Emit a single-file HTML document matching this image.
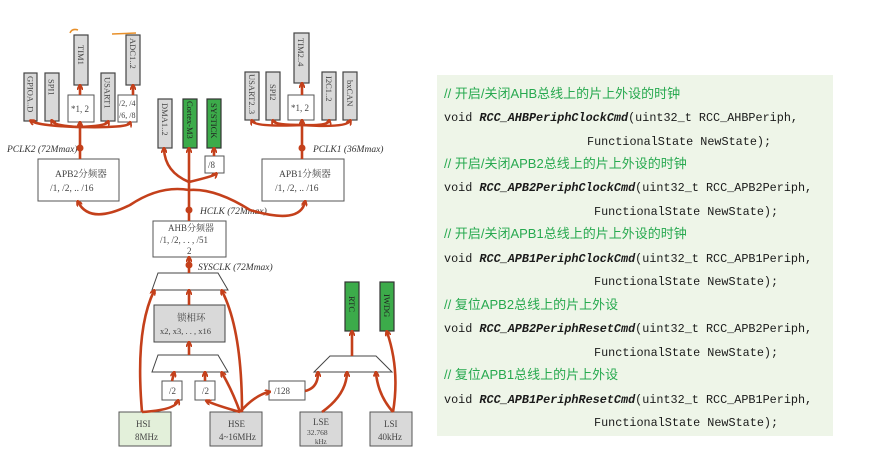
<!DOCTYPE html>
<html><head><meta charset="utf-8"><style>
html,body{margin:0;padding:0;background:#fff;width:875px;height:469px;overflow:hidden}
svg{display:block}
.b{fill:#d9d9d9;stroke:#444;stroke-width:1.2}
.g{fill:#3cab4a;stroke:#333;stroke-width:1.2}
.w{fill:#fff;stroke:#555;stroke-width:1}
.t{font-family:"Liberation Serif","Noto Serif CJK SC",serif;font-size:9px;fill:#444}
.a{fill:none;stroke:#c4401b;stroke-width:2.6;marker-end:url(#m)}
.n{fill:none;stroke:#c4401b;stroke-width:2.6}
.c{font-family:"Liberation Mono","Noto Sans CJK SC",monospace;font-size:11.8px;fill:#1a1a1a}
.cm{font-family:"Liberation Sans","Noto Sans CJK SC",sans-serif;font-size:13px;fill:#27a94f}
.f{font-weight:bold;font-style:italic}
.lbl{font-family:"Liberation Serif",serif;font-style:italic;font-size:9.5px;fill:#333}
</style></head><body>
<svg width="875" height="469" viewBox="0 0 875 469" xmlns="http://www.w3.org/2000/svg">
<defs><marker id="m" markerWidth="6" markerHeight="6" refX="4" refY="3" orient="auto" markerUnits="userSpaceOnUse" viewBox="0 0 6 6"><path d="M0,0 L6,3 L0,6" fill="none" stroke="#c4401b" stroke-width="1.8"/></marker></defs>

<rect x="437" y="75" width="396" height="361" fill="#eef5e8"/>
<g>
<text class="cm" x="444" y="98">// 开启/关闭AHB总线上的片上外设的时钟</text>
<text class="c" x="444" y="121">void <tspan class="f">RCC_AHBPeriphClockCmd</tspan>(uint32_t RCC_AHBPeriph,</text>
<text class="c" x="587" y="145">FunctionalState NewState);</text>
<text class="cm" x="444" y="168">// 开启/关闭APB2总线上的片上外设的时钟</text>
<text class="c" x="444" y="191">void <tspan class="f">RCC_APB2PeriphClockCmd</tspan>(uint32_t RCC_APB2Periph,</text>
<text class="c" x="594" y="215">FunctionalState NewState);</text>
<text class="cm" x="444" y="238">// 开启/关闭APB1总线上的片上外设的时钟</text>
<text class="c" x="444" y="262">void <tspan class="f">RCC_APB1PeriphClockCmd</tspan>(uint32_t RCC_APB1Periph,</text>
<text class="c" x="594" y="285">FunctionalState NewState);</text>
<text class="cm" x="444" y="309">// 复位APB2总线上的片上外设</text>
<text class="c" x="444" y="332">void <tspan class="f">RCC_APB2PeriphResetCmd</tspan>(uint32_t RCC_APB2Periph,</text>
<text class="c" x="594" y="356">FunctionalState NewState);</text>
<text class="cm" x="444" y="379">// 复位APB1总线上的片上外设</text>
<text class="c" x="444" y="403">void <tspan class="f">RCC_APB1PeriphResetCmd</tspan>(uint32_t RCC_APB1Periph,</text>
<text class="c" x="594" y="426">FunctionalState NewState);</text>
</g>

<g>
<rect class="b" x="24" y="73" width="13" height="48"/>
<rect class="b" x="45" y="73" width="14" height="48"/>
<rect class="b" x="74" y="35" width="14" height="50"/>
<rect class="b" x="101" y="73" width="14" height="48"/>
<rect class="b" x="126" y="35" width="14" height="50"/>
<rect class="b" x="158" y="99" width="14" height="49"/>
<rect class="g" x="183" y="99" width="14" height="49"/>
<rect class="g" x="207" y="99" width="14" height="49"/>
<rect class="b" x="245" y="72" width="14" height="48"/>
<rect class="b" x="266" y="72" width="14" height="48"/>
<rect class="b" x="294" y="33" width="15" height="50"/>
<rect class="b" x="322" y="72" width="14" height="48"/>
<rect class="b" x="343" y="72" width="14" height="48"/>
<rect class="g" x="345" y="282" width="14" height="49"/>
<rect class="g" x="380" y="282" width="14" height="49"/>
</g>
<g class="t" style="font-size:8.5px">
<text transform="translate(27.5,76) rotate(90)">GPIOA..D</text>
<text transform="translate(48.5,79) rotate(90)">SPI1</text>
<text transform="translate(78,45) rotate(90)">TIM1</text>
<text transform="translate(104.5,77) rotate(90)">USART1</text>
<text transform="translate(130,38) rotate(90)">ADC1..2</text>
<text transform="translate(162,103) rotate(90)">DMA1..2</text>
<text transform="translate(187,101) rotate(90)" fill="#222">Cortex-M3</text>
<text transform="translate(211,103) rotate(90)" fill="#222">SYSTICK</text>
<text transform="translate(249,74) rotate(90)">USART2..3</text>
<text transform="translate(270,84) rotate(90)">SPI2</text>
<text transform="translate(298,38) rotate(90)">TIM2..4</text>
<text transform="translate(326,76) rotate(90)">I2C1..2</text>
<text transform="translate(347,80) rotate(90)">bxCAN</text>
<text transform="translate(349,296) rotate(90)" fill="#222">RTC</text>
<text transform="translate(384,294) rotate(90)" fill="#222">IWDG</text>
</g>

<rect class="w" x="68" y="95" width="26" height="27"/><text class="t" x="71" y="112">*1, 2</text>
<rect class="w" x="118" y="95" width="19" height="27"/><text class="t" x="119" y="106" style="font-size:8px">/2, /4</text><text class="t" x="119" y="118" style="font-size:8px">/6, /8</text>
<rect class="w" x="288" y="95" width="26" height="25"/><text class="t" x="291" y="111">*1, 2</text>
<rect class="w" x="205" y="156" width="19" height="17"/><text class="t" x="208" y="168">/8</text>

<rect class="w" x="38" y="159" width="81" height="42"/><text class="t" x="55" y="177" style="font-size:9.5px">APB2分频器</text><text class="t" x="50" y="191" style="font-size:9.5px">/1, /2, .. /16</text>
<rect class="w" x="262" y="159" width="82" height="42"/><text class="t" x="279" y="177" style="font-size:9.5px">APB1分频器</text><text class="t" x="275" y="191" style="font-size:9.5px">/1, /2, .. /16</text>
<rect class="w" x="153" y="221" width="73" height="36"/><text class="t" x="168" y="231" style="font-size:9px">AHB分频器</text><text class="t" x="160" y="243" style="font-size:9px">/1, /2, . . , /51</text><text class="t" x="187" y="254" style="font-size:9px">2</text>

<rect x="154" y="305" width="71" height="37" fill="#d9d9d9" stroke="#444"/><text class="t" x="177" y="321" style="font-size:9.5px">锁相环</text><text class="t" x="160" y="334" style="font-size:8.5px">x2, x3, . . , x16</text>
<rect class="w" x="162" y="381" width="20" height="19"/><text class="t" x="169" y="394">/2</text>
<rect class="w" x="195" y="381" width="20" height="19"/><text class="t" x="202" y="394">/2</text>
<rect class="w" x="269" y="381" width="36" height="19"/><text class="t" x="274" y="394">/128</text>

<rect x="119" y="412" width="52" height="34" fill="#e3f0da" stroke="#555"/><text class="t" x="136" y="427">HSI</text><text class="t" x="135" y="440">8MHz</text>
<rect x="210" y="412" width="52" height="34" fill="#d9d9d9" stroke="#555"/><text class="t" x="228" y="427">HSE</text><text class="t" x="219" y="440">4~16MHz</text>
<rect x="300" y="412" width="42" height="34" fill="#d9d9d9" stroke="#555"/><text class="t" x="313" y="425">LSE</text><text class="t" x="307" y="435" style="font-size:7.5px">32.768</text><text class="t" x="315" y="444" style="font-size:7px">kHz</text>
<rect x="370" y="412" width="42" height="34" fill="#d9d9d9" stroke="#555"/><text class="t" x="384" y="427">LSI</text><text class="t" x="378" y="440">40kHz</text>

<polygon points="158,273 218,273 228,290 152,290" fill="#fff" stroke="#444"/>
<polygon points="158,355 218,355 228,372 152,372" fill="#fff" stroke="#444"/>
<polygon points="330,356 376,356 392,372 314,372" fill="#fff" stroke="#444"/>

<text class="lbl" x="7" y="152">PCLK2 (72Mmax)</text>
<text class="lbl" x="313" y="152">PCLK1 (36Mmax)</text>
<text class="lbl" x="200" y="214">HCLK (72Mmax)</text>
<text class="lbl" x="198" y="270">SYSCLK (72Mmax)</text>

<path class="n" d="M80,159 L80,125"/>
<circle cx="80" cy="148" r="3.5" fill="#c4401b"/>
<path class="a" d="M80,127 Q40,126 31,121"/>
<path class="a" d="M80,127 Q55,126 52,121"/>
<path class="a" d="M80,127 L80,123"/>
<path class="a" d="M80,127 Q106,126 108,122"/>
<path class="a" d="M80,127 Q128,128 130,123"/>
<path class="a" d="M80,95 L80,86"/>
<path class="a" d="M133,95 L133,86"/>
<path class="n" d="M302,159 L302,125"/>
<circle cx="302" cy="148" r="3.5" fill="#c4401b"/>
<path class="a" d="M302,125 Q255,127 252,121"/>
<path class="a" d="M302,125 Q275,125 273,121"/>
<path class="a" d="M302,125 L302,121"/>
<path class="a" d="M302,125 Q328,126 329,121"/>
<path class="a" d="M302,125 Q346,128 350,121"/>
<path class="a" d="M302,95 L302,84"/>
<path class="n" d="M189,221 L189,180"/>
<circle cx="189" cy="210" r="3.5" fill="#c4401b"/>
<path class="a" d="M189,182 Q165,172 164,149"/>
<path class="a" d="M189,182 L189,149"/>
<path class="a" d="M189,182 Q214,176 216,174"/>
<path class="a" d="M214,156 L214,149"/>
<path class="a" d="M189,190 Q160,185 130,205 Q90,225 78,202"/>
<path class="a" d="M189,190 Q215,188 250,210 Q300,225 305,202"/>
<path class="a" d="M189,273 L189,258"/>
<circle cx="189" cy="265" r="3.5" fill="#c4401b"/>
<path class="a" d="M189,305 L189,291"/>
<path class="a" d="M189,355 L189,343"/>
<path class="a" d="M142,412 Q135,330 154,291"/>
<path class="a" d="M242,412 Q242,330 222,291"/>
<path class="a" d="M142,412 Q175,410 178,401"/>
<path class="a" d="M172,381 L174,373"/>
<path class="a" d="M205,381 L205,373"/>
<path class="a" d="M240,412 Q232,390 222,373"/>
<path class="a" d="M240,412 Q215,405 207,401"/>
<path class="a" d="M240,412 Q255,395 269,392"/>
<path class="a" d="M305,391 Q318,388 318,373"/>
<path class="a" d="M322,412 Q346,395 347,373"/>
<path class="a" d="M393,412 Q378,395 376,373"/>
<path class="a" d="M393,412 Q400,370 387,332"/>
<path class="a" d="M352,356 L352,332"/>
<path d="M70,33 Q72,28 78,30" fill="none" stroke="#e8902a" stroke-width="1.5"/>
<path d="M112,34 L136,33" fill="none" stroke="#e8902a" stroke-width="1.5"/>
</svg>
</body></html>
